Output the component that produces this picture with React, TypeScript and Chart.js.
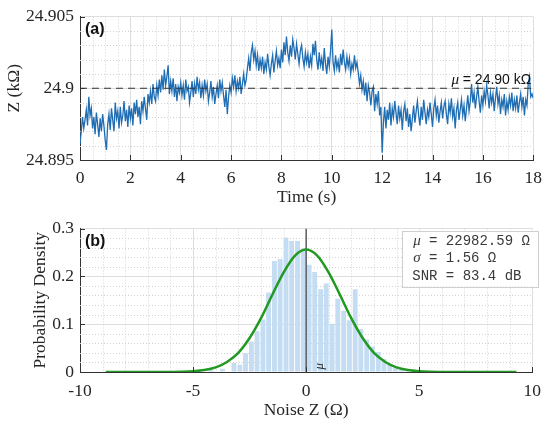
import React, { useEffect, useRef } from "react";
import { Chart, registerables } from "chart.js";

Chart.register(...registerables);

// ---------------- data: panel (a) ----------------
const SAMPLE_DT = 0.05; // s between samples
const impedanceK = [
  24.8961, 24.8970, 24.8980, 24.8972, 24.8978, 24.8985, 24.8974, 24.8994, 24.8981, 24.8986, 24.8972, 24.8980, 24.8968, 24.8983, 24.8975, 24.8966, 24.8979, 24.8970, 24.8982, 24.8974,
  24.8964, 24.8957, 24.8975, 24.8982, 24.8971, 24.8986, 24.8978, 24.8970, 24.8990, 24.8979, 24.8984, 24.8972, 24.8987, 24.8976, 24.8981, 24.8991, 24.8977, 24.8985, 24.8973, 24.8988,
  24.8979, 24.8986, 24.8974, 24.8990, 24.8982, 24.8992, 24.8980, 24.8987, 24.8975, 24.8991, 24.8984, 24.8994, 24.8986, 24.8978, 24.8996, 24.8990, 24.8998, 24.8989, 24.9003, 24.8994,
  24.8991, 24.9002, 24.8995, 24.9006, 24.8997, 24.9009, 24.8999, 24.9013, 24.9002, 24.9008, 24.9016, 24.8996, 24.9005, 24.8998, 24.9007, 24.8994, 24.9003, 24.8991, 24.9001, 24.8997,
  24.9004, 24.8995, 24.9002, 24.8992, 24.9006, 24.8998, 24.9001, 24.8990, 24.8997, 24.9005, 24.8994, 24.9003, 24.8996, 24.9008, 24.8999, 24.9004, 24.8993, 24.9002, 24.8995, 24.9006,
  24.8998, 24.9003, 24.8991, 24.8997, 24.9005, 24.8994, 24.9001, 24.8989, 24.8996, 24.9002, 24.8993, 24.9006, 24.8998, 24.9004, 24.8995, 24.8987, 24.8999, 24.8982, 24.8994, 24.9002,
  24.8997, 24.9007, 24.9001, 24.9009, 24.8998, 24.9005, 24.9000, 24.9008, 24.8996, 24.9003, 24.9010, 24.9002, 24.9006, 24.9014, 24.9021, 24.9012, 24.9025, 24.9030, 24.9020, 24.9026,
  24.9016, 24.9023, 24.9012, 24.9020, 24.9014, 24.9022, 24.9010, 24.9018, 24.9013, 24.9024, 24.9015, 24.9009, 24.9017, 24.9023, 24.9011, 24.9019, 24.9026, 24.9016, 24.9021, 24.9014,
  24.9027, 24.9018, 24.9032, 24.9023, 24.9036, 24.9025, 24.9019, 24.9030, 24.9022, 24.9034, 24.9028, 24.9020, 24.9031, 24.9024, 24.9017, 24.9026, 24.9030, 24.9021, 24.9015, 24.9025,
  24.9018, 24.9024, 24.9014, 24.9022, 24.9016, 24.9031, 24.9023, 24.9033, 24.9020, 24.9013, 24.9025, 24.9016, 24.9021, 24.9012, 24.9028, 24.9017, 24.9010, 24.9022, 24.9015, 24.9026,
  24.9041, 24.9018, 24.9012, 24.9023, 24.9014, 24.9019, 24.9011, 24.9024, 24.9016, 24.9027, 24.9018, 24.9013, 24.9022, 24.9015, 24.9021, 24.9010, 24.9017, 24.9013, 24.9023, 24.9014,
  24.9018, 24.9011, 24.9003, 24.9009, 24.8999, 24.9005, 24.8995, 24.9004, 24.8991, 24.9002, 24.8997, 24.8988, 24.8998, 24.9001, 24.8984, 24.8996, 24.8989, 24.8998, 24.8981, 24.8987,
  24.8955, 24.8976, 24.8987, 24.8972, 24.8985, 24.8978, 24.8990, 24.8974, 24.8986, 24.8980, 24.8991, 24.8983, 24.8975, 24.8988, 24.8979, 24.8985, 24.8971, 24.8984, 24.8989, 24.8977,
  24.8986, 24.8973, 24.8982, 24.8970, 24.8979, 24.8988, 24.8976, 24.8984, 24.8991, 24.8981, 24.8974, 24.8987, 24.8978, 24.8992, 24.8983, 24.8975, 24.8985, 24.8980, 24.8990, 24.8982,
  24.8973, 24.8986, 24.8992, 24.8981, 24.8988, 24.8976, 24.8984, 24.8990, 24.8979, 24.8987, 24.8991, 24.8982, 24.8975, 24.8989, 24.8983, 24.8993, 24.8980, 24.8986, 24.8972, 24.8985,
  24.8990, 24.8978, 24.8985, 24.8992, 24.8981, 24.8988, 24.8977, 24.8986, 24.8995, 24.8984, 24.8991, 24.9003, 24.8990, 24.8997, 24.8986, 24.8994, 24.9001, 24.8991, 24.8983, 24.8995,
  24.8988, 24.8998, 24.8991, 24.9002, 24.8995, 24.8986, 24.8997, 24.8990, 24.8996, 24.8984, 24.8993, 24.9001, 24.8989, 24.8995, 24.8982, 24.8992, 24.8987, 24.8996, 24.8981, 24.8991,
  24.8985, 24.8994, 24.8988, 24.8997, 24.8984, 24.8992, 24.8986, 24.8995, 24.8983, 24.8990, 24.8996, 24.8987, 24.8994, 24.8981, 24.8992, 24.8988, 24.9003, 24.9008, 24.8994, 24.8996,
  24.8993,
];
const meanK = 24.9;
const meanLabel = "= 24.90 kΩ";
const timeTicks = [0, 2, 4, 6, 8, 10, 12, 14, 16, 18];
const timeTickLabels = ["0", "2", "4", "6", "8", "10", "12", "14", "16", "18"];
const zTicks = [24.895, 24.9, 24.905];
const zTickLabels = ["24.895", "24.9", "24.905"];

// ---------------- data: panel (b) ----------------
const histCenters = [
  -4.21, -3.95, -3.70, -3.44, -3.19, -2.93, -2.68, -2.42, -2.17, -1.91, -1.66, -1.40, -1.15, -0.89, -0.64, -0.38, -0.13,
  0.13, 0.38, 0.64, 0.89, 1.15, 1.40, 1.66, 1.91, 2.17, 2.42, 2.68, 2.93, 3.19, 3.44, 3.70, 3.95, 4.21, 4.46,
];
const histDensity = [
  0.004, 0.0, 0.007, 0.0, 0.019, 0.015, 0.039, 0.064, 0.085, 0.11, 0.166, 0.232, 0.236, 0.281, 0.274, 0.274, 0.258,
  0.224, 0.209, 0.173, 0.185, 0.101, 0.153, 0.128, 0.108, 0.173, 0.09, 0.068, 0.053, 0.042, 0.027, 0.017, 0.009, 0.005, 0.003,
];
const fitX = [-8.86, -7, -6, -5.5, -5, -4.5, -4, -3.5, -3, -2.5, -2, -1.5, -1, -0.5, 0, 0.5, 1, 1.5, 2, 2.5, 3, 3.5, 4, 4.5, 5, 5.5, 6, 7, 9.3];
const fitY = [0, 0, 0.0002, 0.0005, 0.0015, 0.004, 0.0096, 0.021, 0.04, 0.071, 0.112, 0.161, 0.208, 0.243, 0.256, 0.243, 0.208, 0.161, 0.112, 0.071, 0.04, 0.021, 0.0096, 0.004, 0.0015, 0.0005, 0.0002, 0, 0];
const noiseTicks = [-10, -5, 0, 5, 10];
const noiseTickLabels = ["-10", "-5", "0", "5", "10"];
const densityTicks = [0, 0.1, 0.2, 0.3];
const densityTickLabels = ["0", "0.1", "0.2", "0.3"];
const statsSymbols = ["μ", "σ", ""];
const statsTexts = [" = 22982.59 Ω", " = 1.56 Ω", "SNR = 83.4 dB"];

// ---------------- styling ----------------
const SERIF = "'Liberation Serif', 'DejaVu Serif', serif";
const SANS = "'Liberation Sans', Arial, sans-serif";
const MONO = "'Liberation Mono', 'DejaVu Sans Mono', monospace";
const TICK_FONT = { family: SERIF, size: 17.5 };
const TEXT = "#262626";
const MAJOR_GRID = "#dedede";
const MINOR_GRID = "#d2d2d2";
const AXIS = "#333333";

type Cfg = { xMajor: number; xMinor: number; yMajor: number; yMinor: number };

function drawFrame(chart: any, cfg: Cfg) {
  const { ctx, chartArea } = chart;
  const { left, right, top, bottom } = chartArea;
  const xs = chart.scales.x;
  const ys = chart.scales.y;
  ctx.save();
  ctx.strokeStyle = MINOR_GRID;
  ctx.lineWidth = 1;
  ctx.setLineDash([1, 2]);
  const isMajor = (v: number, step: number) => Math.abs(v / step - Math.round(v / step)) < 1e-6;
  const nx = Math.round((xs.max - xs.min) / cfg.xMinor);
  for (let i = 0; i <= nx; i++) {
    const v = xs.min + i * cfg.xMinor;
    if (isMajor(v, cfg.xMajor)) continue;
    const px = Math.round(xs.getPixelForValue(v)) + 0.5;
    ctx.beginPath();
    ctx.moveTo(px, top);
    ctx.lineTo(px, bottom);
    ctx.stroke();
  }
  const ny = Math.round((ys.max - ys.min) / cfg.yMinor);
  for (let i = 0; i <= ny; i++) {
    const v = ys.min + i * cfg.yMinor;
    if (isMajor(v - ys.min, cfg.yMajor)) continue;
    const py = Math.round(ys.getPixelForValue(v)) + 0.5;
    ctx.beginPath();
    ctx.moveTo(left, py);
    ctx.lineTo(right, py);
    ctx.stroke();
  }
  ctx.restore();
}

function drawInwardTicks(chart: any) {
  const { ctx, chartArea } = chart;
  const { left, bottom } = chartArea;
  const xs = chart.scales.x;
  const ys = chart.scales.y;
  ctx.save();
  ctx.strokeStyle = AXIS;
  ctx.lineWidth = 1;
  xs.ticks.forEach((t: any) => {
    const px = Math.round(xs.getPixelForValue(t.value)) + 0.5;
    ctx.beginPath();
    ctx.moveTo(px, bottom);
    ctx.lineTo(px, bottom - 5);
    ctx.stroke();
  });
  ys.ticks.forEach((t: any) => {
    const py = Math.round(ys.getPixelForValue(t.value)) + 0.5;
    ctx.beginPath();
    ctx.moveTo(left, py);
    ctx.lineTo(left + 5, py);
    ctx.stroke();
  });
  ctx.restore();
}

function drawPanelLabel(chart: any, text: string) {
  const { ctx, chartArea } = chart;
  ctx.save();
  ctx.fillStyle = "#111";
  ctx.font = `bold 16px ${SANS}`;
  ctx.textBaseline = "middle";
  ctx.textAlign = "left";
  ctx.fillText(text, chartArea.left + 5, chartArea.top + 13);
  ctx.restore();
}

function tickAxis(ticks: number[], labels: string[], extra: any) {
  return {
    type: "linear",
    offset: false,
    afterBuildTicks: (axis: any) => {
      axis.ticks = ticks.map((v) => ({ value: v }));
    },
    grid: { color: MAJOR_GRID, lineWidth: 1, drawTicks: false, offset: false },
    border: { display: true, color: AXIS, width: 1 },
    ticks: {
      font: TICK_FONT,
      color: TEXT,
      autoSkip: false,
      maxRotation: 0,
      callback: (_v: any, i: number) => labels[i],
    },
    ...extra,
  };
}

function TopPanel() {
  const ref = useRef<HTMLCanvasElement | null>(null);
  useEffect(() => {
    if (!ref.current) return;
    const cfg: Cfg = { xMajor: 2, xMinor: 0.5, yMajor: 0.005, yMinor: 0.001 };
    const points = impedanceK.map((z, i) => ({ x: i * SAMPLE_DT, y: z }));
    const decor = {
      id: "decorA",
      beforeDatasetsDraw(chart: any) {
        drawFrame(chart, cfg);
      },
      afterDatasetsDraw(chart: any) {
        drawInwardTicks(chart);
        drawPanelLabel(chart, "(a)");
        const { ctx, chartArea } = chart;
        const py = chart.scales.y.getPixelForValue(meanK);
        ctx.save();
        ctx.fillStyle = "#111";
        ctx.textBaseline = "alphabetic";
        ctx.font = `14px ${SANS}`;
        const rest = meanLabel;
        const wRest = ctx.measureText(rest).width;
        const xRight = chartArea.right - 2;
        ctx.textAlign = "right";
        ctx.fillText(rest, xRight, py - 4);
        ctx.font = `italic 15px ${SERIF}`;
        ctx.fillText("μ ", xRight - wRest, py - 4);
        ctx.restore();
      },
    };
    const chart = new Chart(ref.current, {
      type: "line",
      data: {
        datasets: [
          {
            data: [
              { x: timeTicks[0], y: meanK },
              { x: timeTicks[timeTicks.length - 1], y: meanK },
            ],
            borderColor: "#333",
            borderWidth: 1.2,
            borderDash: [7, 5],
            pointRadius: 0,
            order: 1,
          },
          {
            data: points,
            borderColor: "#1f6db3",
            borderWidth: 1.3,
            pointRadius: 0,
            tension: 0,
            order: 2,
          },
        ],
      },
      options: {
        animation: false,
        responsive: false,
        events: [],
        layout: { padding: { left: 0, right: 15, top: 12, bottom: 0 } },
        plugins: { legend: { display: false }, tooltip: { enabled: false } },
        scales: {
          x: tickAxis(timeTicks, timeTickLabels, {
            min: 0,
            max: 18,
            afterFit: (s: any) => {
              s.height = 52;
            },
            title: {
              display: true,
              text: "Time (s)",
              font: TICK_FONT,
              color: TEXT,
              padding: { top: 0, bottom: 4.5 },
            },
          }),
          y: tickAxis(zTicks, zTickLabels, {
            min: 24.895,
            max: 24.905,
            afterFit: (s: any) => {
              s.width = 80;
            },
            title: {
              display: true,
              text: "Z (kΩ)",
              font: TICK_FONT,
              color: TEXT,
              padding: { top: 3.5, bottom: 0 },
            },
          }),
        },
      } as any,
      plugins: [decor as any],
    });
    // tick label paddings
    (chart.options.scales as any).x.ticks.padding = 8;
    (chart.options.scales as any).y.ticks.padding = 6;
    chart.update();
    return () => chart.destroy();
  }, []);
  return <canvas ref={ref} width={550} height={212} style={{ display: "block", width: 550, height: 212 }} />;
}

function BottomPanel() {
  const ref = useRef<HTMLCanvasElement | null>(null);
  useEffect(() => {
    if (!ref.current) return;
    const cfg: Cfg = { xMajor: 5, xMinor: 1, yMajor: 0.1, yMinor: 0.02 };
    const decor = {
      id: "decorB",
      beforeDatasetsDraw(chart: any) {
        drawFrame(chart, cfg);
      },
      afterDatasetsDraw(chart: any) {
        drawInwardTicks(chart);
        drawPanelLabel(chart, "(b)");
        const { ctx, chartArea } = chart;
        const xs = chart.scales.x;
        const ys = chart.scales.y;
        // rotated mu marker next to the mean line
        ctx.save();
        ctx.translate(xs.getPixelForValue(0.6), ys.getPixelForValue(0.012));
        ctx.rotate(-Math.PI / 2);
        ctx.fillStyle = "#222";
        ctx.font = `italic 13px ${SERIF}`;
        ctx.textAlign = "center";
        ctx.textBaseline = "middle";
        ctx.fillText("μ", 0, 0);
        ctx.restore();
        // stats box
        const bx = chartArea.right - 130;
        const by = chartArea.top + 2;
        const bw = 136;
        const bh = 56;
        ctx.save();
        ctx.fillStyle = "#ffffff";
        ctx.fillRect(bx, by, bw, bh);
        ctx.strokeStyle = "#cfcfcf";
        ctx.lineWidth = 1;
        ctx.strokeRect(Math.round(bx) + 0.5, Math.round(by) + 0.5, bw, bh);
        ctx.fillStyle = "#3a3a3a";
        ctx.textBaseline = "alphabetic";
        ctx.textAlign = "left";
        ctx.font = `14px ${MONO}`;
        const cw = ctx.measureText("M").width;
        statsTexts.forEach((txt, i) => {
          const y = by + 14 + i * 17.5;
          let x = bx + 10;
          const sym = statsSymbols[i];
          if (sym) {
            ctx.font = `italic 15px ${SERIF}`;
            ctx.fillText(sym, x + 1, y);
            x += cw;
          }
          ctx.font = `14px ${MONO}`;
          ctx.fillText(txt, x, y);
        });
        ctx.restore();
      },
    };
    const chart = new Chart(ref.current, {
      type: "line",
      data: {
        datasets: [
          {
            type: "line",
            data: fitX.map((x, i) => ({ x, y: fitY[i] })),
            borderColor: "#229922",
            borderWidth: 2.5,
            pointRadius: 0,
            cubicInterpolationMode: "monotone",
            order: 1,
          },
          {
            type: "line",
            data: [
              { x: 0, y: densityTicks[0] },
              { x: 0, y: densityTicks[densityTicks.length - 1] },
            ],
            borderColor: "#3a3a3a",
            borderWidth: 1.2,
            pointRadius: 0,
            order: 2,
          },
          {
            type: "bar",
            data: histCenters.map((x, i) => ({ x, y: histDensity[i] })),
            backgroundColor: "#c4ddf2",
            borderWidth: 0,
            barPercentage: 0.86,
            categoryPercentage: 1,
            order: 3,
          },
        ],
      },
      options: {
        animation: false,
        responsive: false,
        events: [],
        layout: { padding: { left: 0, right: 15, top: 10, bottom: 0 } },
        plugins: { legend: { display: false }, tooltip: { enabled: false } },
        scales: {
          x: tickAxis(noiseTicks, noiseTickLabels, {
            min: -10,
            max: 10,
            afterFit: (s: any) => {
              s.height = 53;
            },
            title: {
              display: true,
              text: "Noise Z (Ω)",
              font: TICK_FONT,
              color: TEXT,
              padding: { top: 0, bottom: 4.5 },
            },
          }),
          y: tickAxis(densityTicks, densityTickLabels, {
            min: 0,
            max: 0.3,
            afterFit: (s: any) => {
              s.width = 80;
            },
            title: {
              display: true,
              text: "Probability Density",
              font: TICK_FONT,
              color: TEXT,
              padding: { top: 30, bottom: 0 },
            },
          }),
        },
      } as any,
      plugins: [decor as any],
    });
    (chart.options.scales as any).x.ticks.padding = 9;
    (chart.options.scales as any).y.ticks.padding = 6;
    chart.update();
    return () => chart.destroy();
  }, []);
  return <canvas ref={ref} width={550} height={213} style={{ display: "block", width: 550, height: 213 }} />;
}

export default function App() {
  return (
    <div style={{ position: "absolute", left: 0, top: 0, width: 550, height: 425, background: "#fff" }}>
      <TopPanel />
      <BottomPanel />
    </div>
  );
}
